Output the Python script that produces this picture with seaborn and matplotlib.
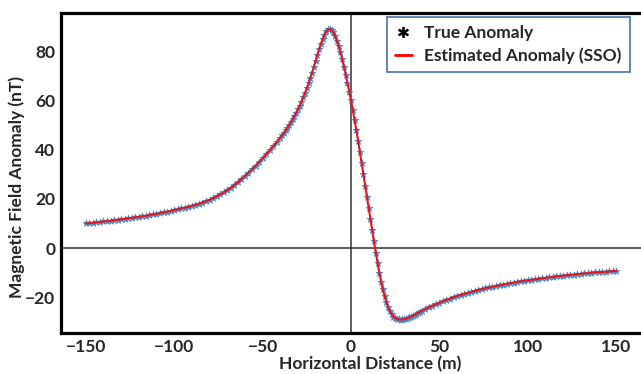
import pandas as pd
import seaborn as sns
import matplotlib.pyplot as plt
from matplotlib.lines import Line2D

# horizontal distance (m): 2 m steps on the flanks, 1 m steps near the body
distance = list(range(-150, -40, 2)) + list(range(-40, 40)) + list(range(40, 151, 2))

left_flank = [
    10.0, 10.15, 10.3, 10.45, 10.6, 10.8, 10.95, 11.1, 11.3, 11.5,
    11.7, 11.9, 12.1, 12.3, 12.5, 12.7, 12.9, 13.15, 13.4, 13.65,
    13.9, 14.2, 14.5, 14.8, 15.1, 15.4, 15.75, 16.1, 16.45, 16.8,
    17.2, 17.6, 18.05, 18.5, 19.0, 19.6, 20.3, 21.0, 21.8, 22.6,
    23.5, 24.5, 25.6, 26.8, 28.0, 29.3, 30.6, 32.0, 33.5, 35.0,
    36.5, 38.1, 39.7, 41.4, 43.1,
]
centre = [
    44.9, 45.8, 46.8, 47.8, 48.9, 50.0, 51.2, 52.4, 53.7, 55.0,
    56.4, 57.9, 59.5, 61.2, 63.0, 64.9, 66.9, 69.0, 71.3, 73.6,
    76.0, 78.4, 80.8, 83.0, 85.0, 86.7, 88.0, 88.8, 89.0, 88.6,
    87.6, 86.1, 84.2, 82.0, 79.5, 76.8, 73.7, 70.4, 67.0, 63.5,
    60.0, 56.2, 52.2, 48.0, 43.7, 39.2, 34.6, 30.0, 25.4, 20.8,
    16.2, 11.7, 7.2, 2.7, -1.8, -6.0, -10.0, -13.6, -16.8, -19.6,
    -22.0, -24.0, -25.6, -26.9, -27.8, -28.4, -28.8, -29.0, -29.1, -29.0,
    -28.9, -28.7, -28.4, -28.1, -27.8, -27.4, -27.1, -26.7, -26.3, -25.9,
]
right_flank = [
    -25.5, -24.8, -24.1, -23.4, -22.8, -22.2, -21.6, -21.0, -20.5, -20.0,
    -19.5, -19.0, -18.6, -18.2, -17.8, -17.4, -17.0, -16.7, -16.3, -16.0,
    -15.7, -15.4, -15.1, -14.8, -14.5, -14.3, -14.0, -13.8, -13.5, -13.3,
    -13.1, -12.9, -12.7, -12.5, -12.3, -12.1, -11.9, -11.7, -11.5, -11.35,
    -11.2, -11.05, -10.9, -10.75, -10.6, -10.45, -10.3, -10.15, -10.0, -9.9,
    -9.8, -9.7, -9.6, -9.5, -9.4, -9.3,
]
true_anomaly = left_flank + centre + right_flank
estimated_anomaly = list(true_anomaly)  # SSO fit sits on top of the true curve

x_ticks = [-150, -100, -50, 0, 50, 100, 150]
y_ticks = [-20, 0, 20, 40, 60, 80]

df = pd.DataFrame({"x": distance, "true": true_anomaly, "est": estimated_anomaly})

sns.set_style("white")
plt.rcParams["font.family"] = ["Lato", "DejaVu Sans"]

fig = plt.figure(figsize=(6.41, 3.74), dpi=100)
ax = fig.add_axes([61 / 641, 1 - 333 / 374, 1 - 61 / 641, (333 - 13) / 374])

ax.axhline(0, color="#333333", lw=1.1, zorder=1)
ax.axvline(0, color="#333333", lw=1.1, zorder=1)

sns.scatterplot(data=df, x="x", y="true", marker="*", s=26, color="#4a8ac4",
                edgecolor="#4a8ac4", linewidth=0.5, ax=ax, zorder=2)
sns.lineplot(data=df, x="x", y="est", color="#e8141c", lw=1.5, ax=ax, zorder=3)

ax.set_xlim(-164, 164)
ax.set_ylim(-34.5, 95.5)
ax.set_xticks(x_ticks)
ax.set_yticks(y_ticks)
ax.tick_params(length=0, pad=4, labelsize=12.5)
for lab in ax.get_xticklabels() + ax.get_yticklabels():
    lab.set_fontweight("bold")

ax.set_xlabel("Horizontal Distance (m)", fontsize=12.5, fontweight="bold")
ax.set_ylabel("Magnetic Field Anomaly (nT)", fontsize=12.5, fontweight="bold")
# the original plot area was cropped on the right, so the titles sit off-centre
ax.xaxis.set_label_coords(0.533, -0.071)
ax.yaxis.set_label_coords(-0.062, 0.456)

for side in ["left", "bottom", "top"]:
    ax.spines[side].set_linewidth(2.3)
    ax.spines[side].set_color("black")
ax.spines["right"].set_visible(False)

handles = [
    Line2D([], [], ls="none", marker="$*$", color="black", markersize=7),
    Line2D([], [], color="#ff0000", lw=2),
]
leg = ax.legend(handles, ["True Anomaly", "Estimated Anomaly (SSO)"],
                loc="upper left", fancybox=False, framealpha=1,
                edgecolor="#4472a8", prop={"weight": "bold", "size": 12.5},
                handlelength=1.0, handletextpad=0.7, borderpad=0.45,
                labelspacing=0.4, borderaxespad=0)
leg.get_frame().set_linewidth(1.2)
leg.set_bbox_to_anchor((387 / 641, 1 - 17 / 374), transform=fig.transFigure)

fig.savefig("out.png", dpi=100)
